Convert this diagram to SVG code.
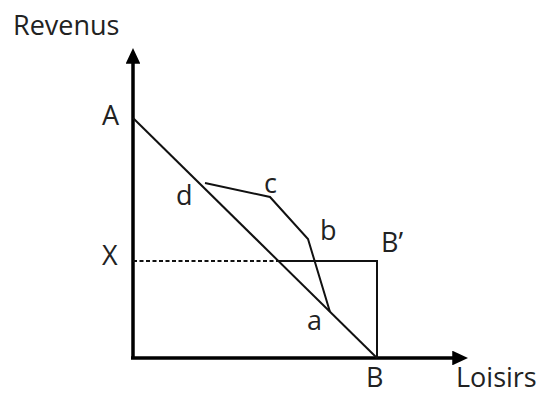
<svg xmlns="http://www.w3.org/2000/svg" width="543" height="394" viewBox="0 0 543 394">
<style>
text{font-family:"Open Sans","Noto Sans","DejaVu Sans",sans-serif;font-size:27px;fill:#222}
.ax{stroke:#000;stroke-width:3.5;fill:none}
.ln{stroke:#111;stroke-width:2;fill:none}
</style>
<defs>
<marker id="ah" markerWidth="4.5" markerHeight="4.2" refX="0.5" refY="2.1" orient="auto" markerUnits="strokeWidth"><path d="M0,0 L4.5,2.1 L0,4.2 z" fill="#000"/></marker>
</defs>
<rect width="543" height="394" fill="#fff"/>
<g id="connectors">
<path class="ax" d="M133,358 V62" marker-end="url(#ah)"/>
<path class="ax" d="M131,358 H454" marker-end="url(#ah)"/>
<path class="ln" d="M133,118 L377,358"/>
<path class="ln" d="M133,261 H278" stroke-dasharray="4,2.5"/>
<path class="ln" d="M278,261 H377 V358"/>
<path class="ln" d="M205,183 L270,197 L308,239 L330,312"/>
</g>
<g id="labels">
<text x="102" y="125">A</text>
<text x="102" y="265">X</text>
<text x="381" y="252">B’</text>
<text x="366" y="387">B</text>
<text x="456" y="387">Loisirs</text>
<text x="13" y="35">Revenus</text>
<text x="307" y="330">a</text>
<text x="320" y="240">b</text>
<text x="264" y="193">c</text>
<text x="176" y="205">d</text>
</g>
</svg>
